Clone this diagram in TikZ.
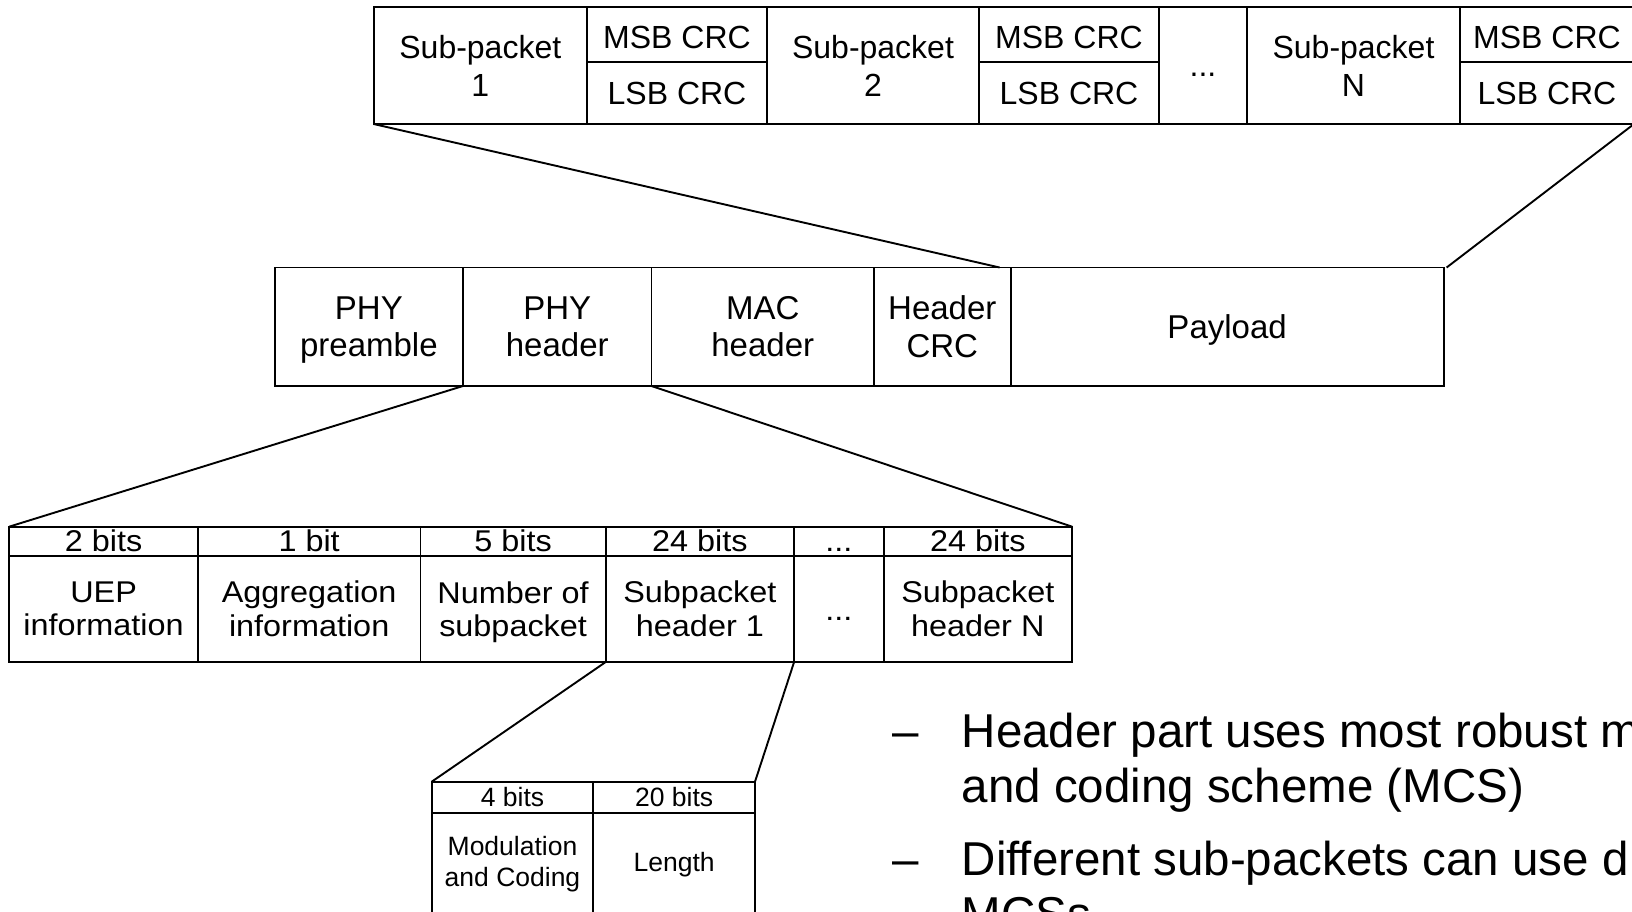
\documentclass[tikz,border=0pt]{standalone}
\usepackage{fontspec}
\setmainfont{Liberation Sans}
\newfontfamily\widefont[FakeStretch=1.08]{Liberation Sans}
\usetikzlibrary{calc}
\begin{document}
\begin{tikzpicture}[x=1pt,y=-1pt,line width=1.9pt,
  cell/.style={draw,inner sep=0pt,outer sep=0pt,anchor=north west,align=center},
  toprow/.style={cell,font=\fontsize{32}{38}\selectfont},
  midrow/.style={cell,font=\fontsize{33}{37.5}\selectfont},
  botrow/.style={cell,font=\widefont\fontsize{30}{33.4}\selectfont},
  smlrow/.style={cell,font=\fontsize{26.5}{31.7}\selectfont},
  bul/.style={inner sep=0pt,outer sep=0pt,anchor=base west,font=\fontsize{47.5}{55}\selectfont}]
\clip (0,0) rectangle (1632,911);
\useasboundingbox (0,0) rectangle (1632,911);
% top row
\node[toprow,minimum width=213.4pt,minimum height=116.7pt] (sp1) at (373.6,7.3) {Sub-packet\\1};
\node[toprow,minimum width=180pt,minimum height=55.1pt] (m1) at (587,7.3) {\rule{0pt}{28pt}MSB CRC};
\node[toprow,minimum width=180pt,minimum height=61.6pt] (l1) at (587,62.4) {LSB CRC};
\node[toprow,minimum width=212pt,minimum height=116.7pt] (sp2) at (767,7.3) {Sub-packet\\2};
\node[toprow,minimum width=180pt,minimum height=55.1pt] (m2) at (979,7.3) {\rule{0pt}{28pt}MSB CRC};
\node[toprow,minimum width=180pt,minimum height=61.6pt] (l2) at (979,62.4) {LSB CRC};
\node[toprow,minimum width=88pt,minimum height=116.7pt] (dt) at (1159,7.3) {\rule{0pt}{21pt}...};
\node[toprow,minimum width=213pt,minimum height=116.7pt] (spN) at (1247,7.3) {Sub-packet\\N};
\node[toprow,minimum width=174pt,minimum height=55.1pt] (mN) at (1460,7.3) {\rule{0pt}{28pt}MSB CRC};
\node[toprow,minimum width=174pt,minimum height=61.6pt] (lN) at (1460,62.4) {LSB CRC};
% middle row
\node[midrow,minimum width=188.2pt,minimum height=118.5pt] (pp) at (274.8,267.5) {PHY\\\smash{preamble}};
\node[midrow,minimum width=188.5pt,minimum height=118.5pt] (ph) at (463,267.5) {PHY\\header};
\node[midrow,minimum width=222.5pt,minimum height=118.5pt] (mh) at (651.5,267.5) {MAC\\header};
\node[midrow,minimum width=136.6pt,minimum height=118.5pt] (hc) at (874,267.5) {Header\\CRC};
\node[midrow,minimum width=433pt,minimum height=118.5pt] (pl) at (1010.6,267.5) {\rule{0pt}{31pt}Payload};
% bottom table
\node[botrow,minimum width=188.4pt,minimum height=29.2pt] (b1h) at (9.4,526.6) {2 bits};
\node[botrow,minimum width=188.4pt,minimum height=106.2pt] (b1) at (9.4,555.8) {UEP\\information};
\node[botrow,minimum width=222.7pt,minimum height=29.2pt] (b2h) at (197.8,526.6) {1 bit};
\node[botrow,minimum width=222.7pt,minimum height=106.2pt] (b2) at (197.8,555.8) {Aggregation\\information};
\node[botrow,minimum width=185.2pt,minimum height=29.2pt] (b3h) at (420.5,526.6) {5 bits};
\node[botrow,minimum width=185.2pt,minimum height=106.2pt] (b3) at (420.5,555.8) {Number of\\\smash{subpacket}};
\node[botrow,minimum width=188.4pt,minimum height=29.2pt] (b4h) at (605.7,526.6) {24 bits};
\node[botrow,minimum width=188.4pt,minimum height=106.2pt] (b4) at (605.7,555.8) {Subpacket\\header 1};
\node[botrow,minimum width=89.5pt,minimum height=29.2pt] (b5h) at (794.1,526.6) {\vphantom{2}...};
\node[botrow,minimum width=89.5pt,minimum height=106.2pt] (b5) at (794.1,555.8) {\rule{0pt}{24pt}...};
\node[botrow,minimum width=188.4pt,minimum height=29.2pt] (b6h) at (883.6,526.6) {24 bits};
\node[botrow,minimum width=188.4pt,minimum height=106.2pt] (b6) at (883.6,555.8) {Subpacket\\header N};
% small table
\node[smlrow,minimum width=161.6pt,minimum height=31pt] (s1h) at (431.7,781.7) {4 bits};
\node[smlrow,minimum width=161.6pt,minimum height=103pt] (s1) at (431.7,812.7) {Modulation\\and Coding};
\node[smlrow,minimum width=161.7pt,minimum height=31pt] (s2h) at (593.3,781.7) {20 bits};
\node[smlrow,minimum width=161.7pt,minimum height=103pt] (s2) at (593.3,812.7) {Length};
% connectors
\draw (sp1.south west) -- ($(pl.north west)+(-11,0)$);
\draw (lN.south east) -- ($(pl.north east)+(3,0)$);
\draw (ph.south west) -- (b1h.north west);
\draw (ph.south east) -- (b6h.north east);
\draw (b4.south west) -- (s1h.north west);
\draw (b4.south east) -- (s2h.north east);
% bullet text
\node[bul] (d1) at (892,747) {–};
\node[bul] (t1) at (961.7,747) {Header part uses most robust m};
\node[bul] (t2) at (961.7,802) {and coding scheme (MCS)};
\node[bul] (d2) at (892,875) {–};
\node[bul] (t3) at (961.7,875) {Different sub-packets can use d};
\node[bul] (t4) at (961.7,930) {MCSs};
\end{tikzpicture}
\end{document}
